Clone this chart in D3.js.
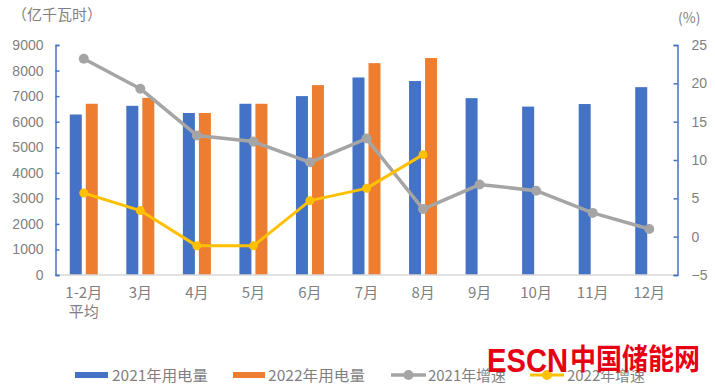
<!DOCTYPE html>
<html>
<head>
<meta charset="utf-8">
<script src="https://cdn.jsdelivr.net/npm/d3@7"></script>
<style>
  body { margin: 0; background: #fff; }
  svg { display: block; }
  text { font-family: "Noto Sans CJK SC", "Noto Sans", sans-serif; }
</style>
</head>
<body>
<svg id="chart" width="715" height="388"></svg>
<script>
const categories = ["1-2月\n平均", "3月", "4月", "5月", "6月", "7月", "8月", "9月", "10月", "11月", "12月"];
const use2021 = [6280, 6620, 6340, 6700, 7000, 7730, 7590, 6920, 6590, 6690, 7350];
const use2022 = [6700, 6930, 6340, 6700, 7430, 8290, 8490];
const growth2021 = [23.2, 19.3, 13.2, 12.4, 9.7, 12.8, 3.6, 6.8, 6.0, 3.1, 1.0];
const growth2022 = [5.7, 3.4, -1.2, -1.2, 4.7, 6.3, 10.7];
const leftTicks = [0, 1000, 2000, 3000, 4000, 5000, 6000, 7000, 8000, 9000];
const rightTicks = [-5, 0, 5, 10, 15, 20, 25];
const legendLabels = ["2021年用电量", "2022年用电量", "2021年增速", "2022年增速"];

const C_BLUE = "#4472C4", C_ORANGE = "#ED7D31", C_GRAY = "#A5A5A5", C_YELLOW = "#FFC000";
const TXT = "#7f7f7f";

const svg = d3.select("#chart");
const L = 55.5, R = 677.5, T = 45, B = 275;

const x = d3.scaleBand().domain(categories).range([L, R]);
const yL = d3.scaleLinear().domain([0, 9000]).range([B, T]);
const yR = d3.scaleLinear().domain([-5, 25]).range([B, T]);

// bars
const bw = 12, gap = 4;
svg.append("g").selectAll("rect").data(use2021).join("rect")
  .attr("x", (d, i) => x(categories[i]) + x.bandwidth() / 2 - gap / 2 - bw)
  .attr("y", d => yL(d)).attr("width", bw).attr("height", d => B - yL(d))
  .attr("fill", C_BLUE);
svg.append("g").selectAll("rect").data(use2022).join("rect")
  .attr("x", (d, i) => x(categories[i]) + x.bandwidth() / 2 + gap / 2)
  .attr("y", d => yL(d)).attr("width", bw).attr("height", d => B - yL(d))
  .attr("fill", C_ORANGE);

// bottom axis line
svg.append("line").attr("x1", L).attr("x2", R).attr("y1", B).attr("y2", B)
  .attr("stroke", "#d9d9d9").attr("stroke-width", 1.5);

// left axis
const gl = svg.append("g").attr("transform", `translate(${L},0)`)
  .call(d3.axisLeft(yL).tickValues(leftTicks).tickFormat(d3.format("d")).tickSizeInner(-4).tickSizeOuter(-4).tickPadding(12));
gl.selectAll("path, line").attr("stroke", C_BLUE).attr("stroke-width", 1.5);
gl.selectAll("text").attr("fill", TXT).style("font-size", "14px").style("font-family", "Liberation Sans, sans-serif");

// right axis
const gr = svg.append("g").attr("transform", `translate(${R},0)`)
  .call(d3.axisRight(yR).tickValues(rightTicks).tickFormat(d3.format("d")).tickSizeInner(-4).tickSizeOuter(-4).tickPadding(14));
gr.selectAll("path, line").attr("stroke", C_BLUE).attr("stroke-width", 1.5);
gr.selectAll("text").attr("fill", TXT).style("font-size", "14px").style("font-family", "Liberation Sans, sans-serif");

// x labels
const xl = svg.append("g");
categories.forEach(c => {
  const lines = c.split("\n");
  lines.forEach((ln, j) => {
    xl.append("text").attr("x", x(c) + x.bandwidth() / 2).attr("y", 298 + j * 19)
      .attr("text-anchor", "middle").attr("fill", TXT).style("font-size", "15px").text(ln);
  });
});

// lines
const cx = i => x(categories[i]) + x.bandwidth() / 2;
const line = d3.line().x((d, i) => cx(i)).y(d => yR(d));
svg.append("path").datum(growth2021).attr("d", line).attr("fill", "none")
  .attr("stroke", C_GRAY).attr("stroke-width", 3.5).attr("stroke-linejoin", "round");
svg.append("g").selectAll("circle").data(growth2021).join("circle")
  .attr("cx", (d, i) => cx(i)).attr("cy", d => yR(d)).attr("r", 5).attr("fill", C_GRAY);
svg.append("path").datum(growth2022).attr("d", line).attr("fill", "none")
  .attr("stroke", C_YELLOW).attr("stroke-width", 3).attr("stroke-linejoin", "round");
svg.append("g").selectAll("circle").data(growth2022).join("circle")
  .attr("cx", (d, i) => cx(i)).attr("cy", d => yR(d)).attr("r", 4.5).attr("fill", C_YELLOW);

// unit titles
svg.append("text").attr("x", 12).attr("y", 20).attr("fill", TXT).style("font-size", "15px").text("（亿千瓦时）");
svg.append("text").attr("x", 678).attr("y", 23).attr("fill", TXT).style("font-size", "14px").text("(%)");

// legend
const ly = 375;
const lg = svg.append("g");
lg.append("rect").attr("x", 75).attr("y", ly - 3).attr("width", 33).attr("height", 6).attr("fill", C_BLUE);
lg.append("rect").attr("x", 233).attr("y", ly - 3).attr("width", 32).attr("height", 6).attr("fill", C_ORANGE);
lg.append("line").attr("x1", 391).attr("x2", 426).attr("y1", ly).attr("y2", ly).attr("stroke", C_GRAY).attr("stroke-width", 3.5);
lg.append("circle").attr("cx", 408.5).attr("cy", ly).attr("r", 5).attr("fill", C_GRAY);
lg.append("line").attr("x1", 530).attr("x2", 564).attr("y1", ly).attr("y2", ly).attr("stroke", C_YELLOW).attr("stroke-width", 3);
lg.append("circle").attr("cx", 547).attr("cy", ly).attr("r", 5).attr("fill", C_YELLOW);
const lxs = [112, 268, 428, 567];
const lws = [96, 97, 78, 78];
legendLabels.forEach((t, i) => {
  lg.append("text").attr("x", lxs[i]).attr("y", ly + 5.5).attr("fill", TXT).style("font-size", "15px")
    .attr("textLength", lws[i]).attr("lengthAdjust", "spacingAndGlyphs").text(t);
});

// watermark
const wm = svg.append("g");
wm.append("text").attr("x", 487).attr("y", 372).attr("fill", "#e60012")
  .style("font-size", "33px").style("font-weight", "bold").style("font-family", "Liberation Sans Narrow, Liberation Sans, sans-serif")
  .attr("textLength", 81).attr("lengthAdjust", "spacingAndGlyphs").text("ESCN");
wm.append("text").attr("x", 570).attr("y", 370).attr("fill", "#e60012")
  .style("font-size", "29px").style("font-weight", "bold")
  .attr("textLength", 130).attr("lengthAdjust", "spacingAndGlyphs").text("中国储能网");
</script>
</body>
</html>
